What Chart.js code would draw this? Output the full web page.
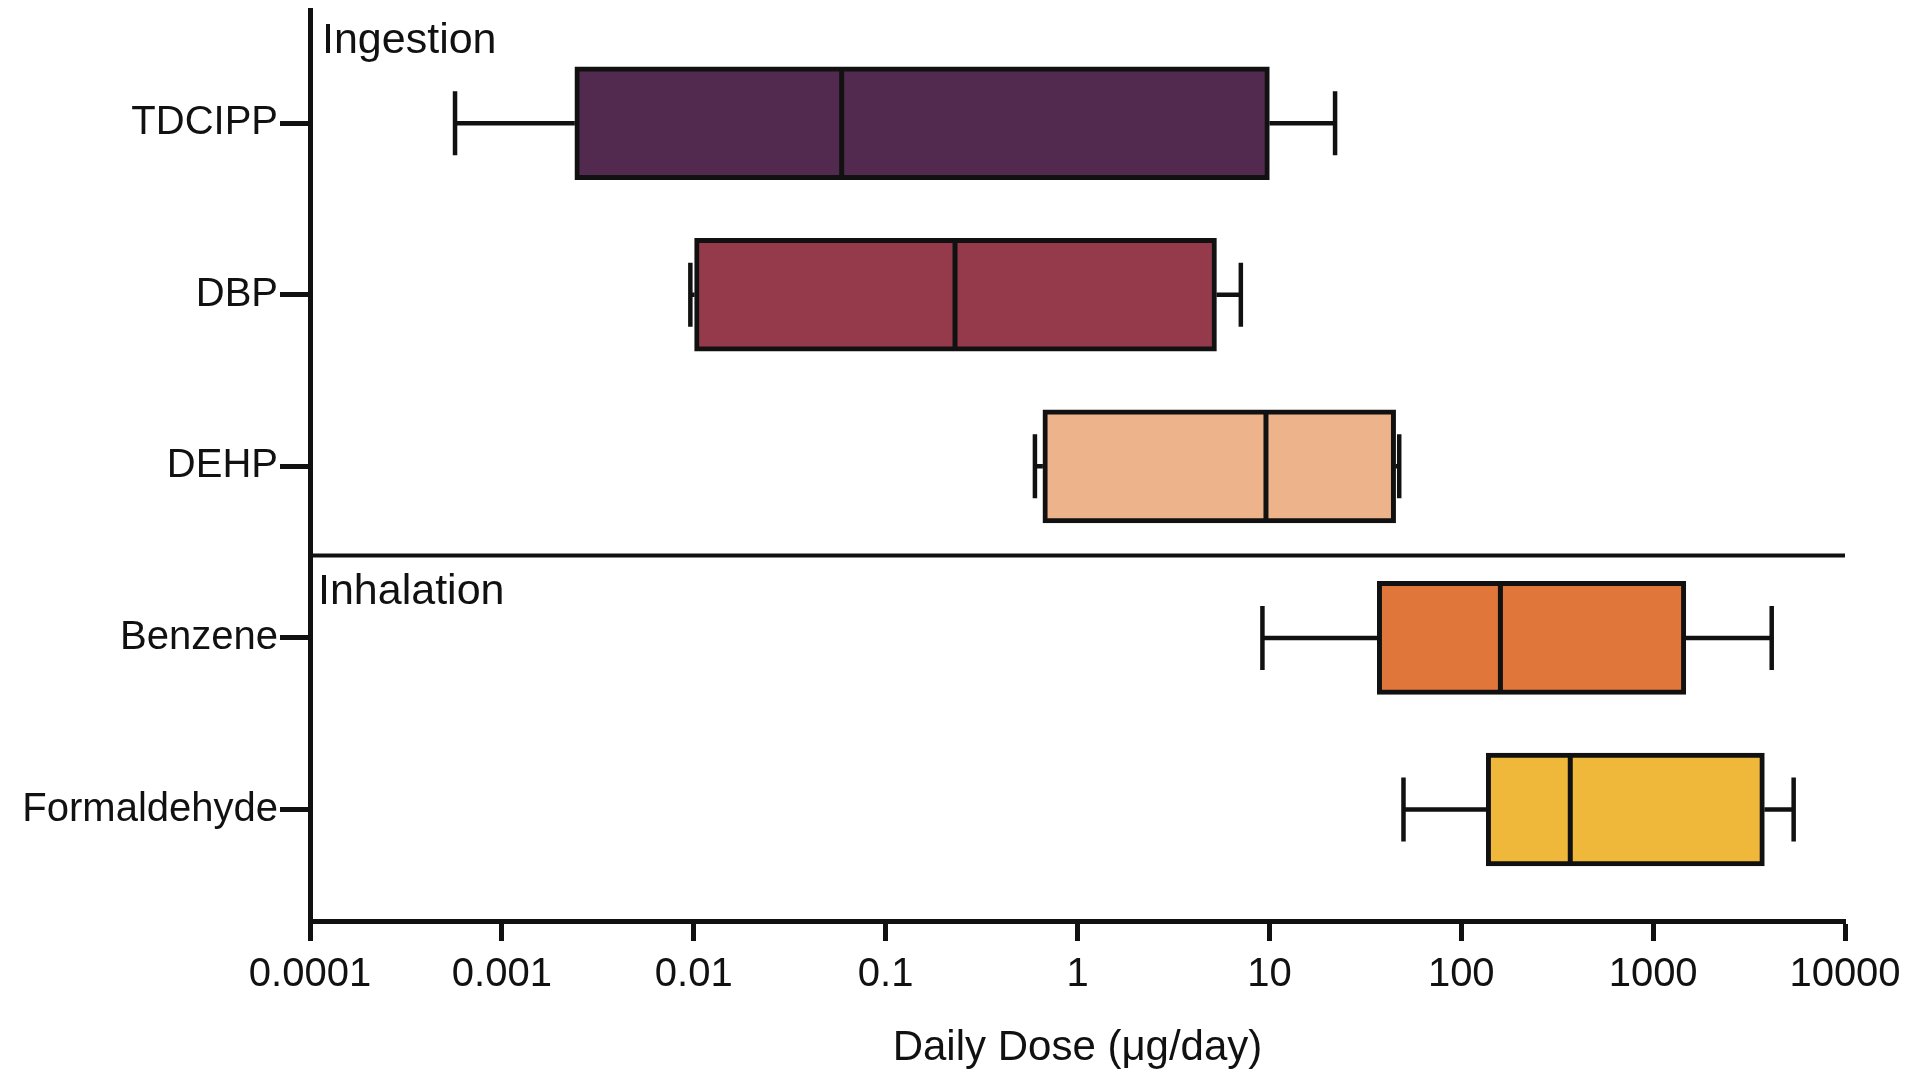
<!DOCTYPE html>
<html lang="en">
<head>
<meta charset="UTF-8">
<title>Daily Dose</title>
<script src="https://cdn.jsdelivr.net/npm/chart.js"></script>
<style>
  html, body { margin: 0; padding: 0; background: #fff; }
</style>
</head>
<body>
<canvas id="doseChart" width="1920" height="1089"></canvas>
<script>
// values (ug/day)
const chemicals   = ['TDCIPP', 'DBP', 'DEHP', 'Benzene', 'Formaldehyde'];
const whiskerLow  = [0.00057, 0.0096, 0.60, 9.2, 50];
const boxLow      = [0.0024, 0.0101, 0.66, 36.5, 135];
const medians     = [0.059, 0.23, 9.6, 160, 370];
const boxHigh     = [10.0, 5.3, 45.5, 1480, 3800];
const whiskerHigh = [22, 7.1, 47.5, 4150, 5400];
const boxColors   = ['#522a50', '#953a4a', '#edb48c', '#e1763a', '#efb83b'];
const xTicks      = [0.0001, 0.001, 0.01, 0.1, 1, 10, 100, 1000, 10000];
const xTickLabels = ['0.0001', '0.001', '0.01', '0.1', '1', '10', '100', '1000', '10000'];
const groupLabels = ['Ingestion', 'Inhalation'];
const groupSplit  = 2.52; // between DEHP and Benzene

const fontFamily = "'Liberation Sans', Arial, Helvetica, sans-serif";
const ink = '#111';

// whiskers, medians, divider and group names
const boxExtras = {
  id: 'boxExtras',
  afterDatasetsDraw(chart) {
    const ctx = chart.ctx;
    const x = chart.scales.x, y = chart.scales.y;
    const area = chart.chartArea;
    ctx.save();
    ctx.strokeStyle = ink;
    ctx.lineCap = 'butt';
    chemicals.forEach((c, i) => {
      const yc = y.getPixelForValue(i);
      const capH = 32;
      const boxH = 56;
      // lower whisker
      ctx.lineWidth = 4.5;
      ctx.beginPath();
      ctx.moveTo(x.getPixelForValue(whiskerLow[i]), yc);
      ctx.lineTo(x.getPixelForValue(boxLow[i]), yc);
      ctx.moveTo(x.getPixelForValue(whiskerLow[i]), yc - capH);
      ctx.lineTo(x.getPixelForValue(whiskerLow[i]), yc + capH);
      // upper whisker
      ctx.moveTo(x.getPixelForValue(boxHigh[i]), yc);
      ctx.lineTo(x.getPixelForValue(whiskerHigh[i]), yc);
      ctx.moveTo(x.getPixelForValue(whiskerHigh[i]), yc - capH);
      ctx.lineTo(x.getPixelForValue(whiskerHigh[i]), yc + capH);
      ctx.stroke();
      // median
      ctx.lineWidth = 5;
      ctx.beginPath();
      const xm = x.getPixelForValue(medians[i]);
      ctx.moveTo(xm, yc - boxH);
      ctx.lineTo(xm, yc + boxH);
      ctx.stroke();
    });
    // group divider
    const yd = y.getPixelForValue(groupSplit);
    ctx.lineWidth = 4;
    ctx.beginPath();
    ctx.moveTo(area.left, yd);
    ctx.lineTo(area.right, yd);
    ctx.stroke();
    // group names
    ctx.fillStyle = ink;
    ctx.font = '43px ' + fontFamily;
    ctx.textBaseline = 'middle';
    ctx.textAlign = 'left';
    ctx.fillText(groupLabels[0], area.left + 12, area.top + 31);
    ctx.fillText(groupLabels[1], area.left + 8, yd + 37);
    ctx.restore();
  }
};

new Chart(document.getElementById('doseChart'), {
  type: 'bar',
  data: {
    datasets: [{
      data: chemicals.map((c, i) => ({ x: [boxLow[i], boxHigh[i]], y: i })),
      backgroundColor: boxColors,
      borderColor: ink,
      borderWidth: 5,
      borderSkipped: false,
      barThickness: 113
    }]
  },
  options: {
    indexAxis: 'y',
    responsive: false,
    animation: false,
    layout: { padding: { top: 10, right: 75, bottom: 0, left: 0 } },
    plugins: { legend: { display: false }, tooltip: { enabled: false } },
    scales: {
      x: {
        type: 'logarithmic',
        min: 0.0001,
        max: 10000,
        afterBuildTicks: s => { s.ticks = xTicks.map(v => ({ value: v })); },
        afterFit: s => { s.height = 168; },
        grid: { drawOnChartArea: false, drawTicks: true, tickLength: 20, tickWidth: 5, color: ink },
        border: { width: 5, color: ink },
        ticks: {
          autoSkip: false, maxRotation: 0, padding: 10,
          color: ink, font: { family: fontFamily, size: 40 },
          callback: (v, idx) => xTickLabels[idx]
        },
        title: {
          display: true, text: 'Daily Dose (\u03bcg/day)', color: ink,
          font: { family: fontFamily, size: 42 },
          padding: { top: 0, bottom: 15 }
        }
      },
      y: {
        type: 'linear',
        min: -0.66,
        max: 4.65,
        reverse: true,
        offset: false,
        afterBuildTicks: s => { s.ticks = chemicals.map((c, i) => ({ value: i })); },
        afterFit: s => { s.width = 310; s.paddingTop = 0; s.paddingBottom = 0; },
        grid: { offset: false, drawOnChartArea: false, drawTicks: true, tickLength: 30, tickWidth: 5, color: ink },
        border: { width: 5, color: ink },
        ticks: {
          padding: 2, color: ink, font: { family: fontFamily, size: 40 },
          callback: v => chemicals[v]
        }
      }
    }
  },
  plugins: [boxExtras]
});
</script>
</body>
</html>
